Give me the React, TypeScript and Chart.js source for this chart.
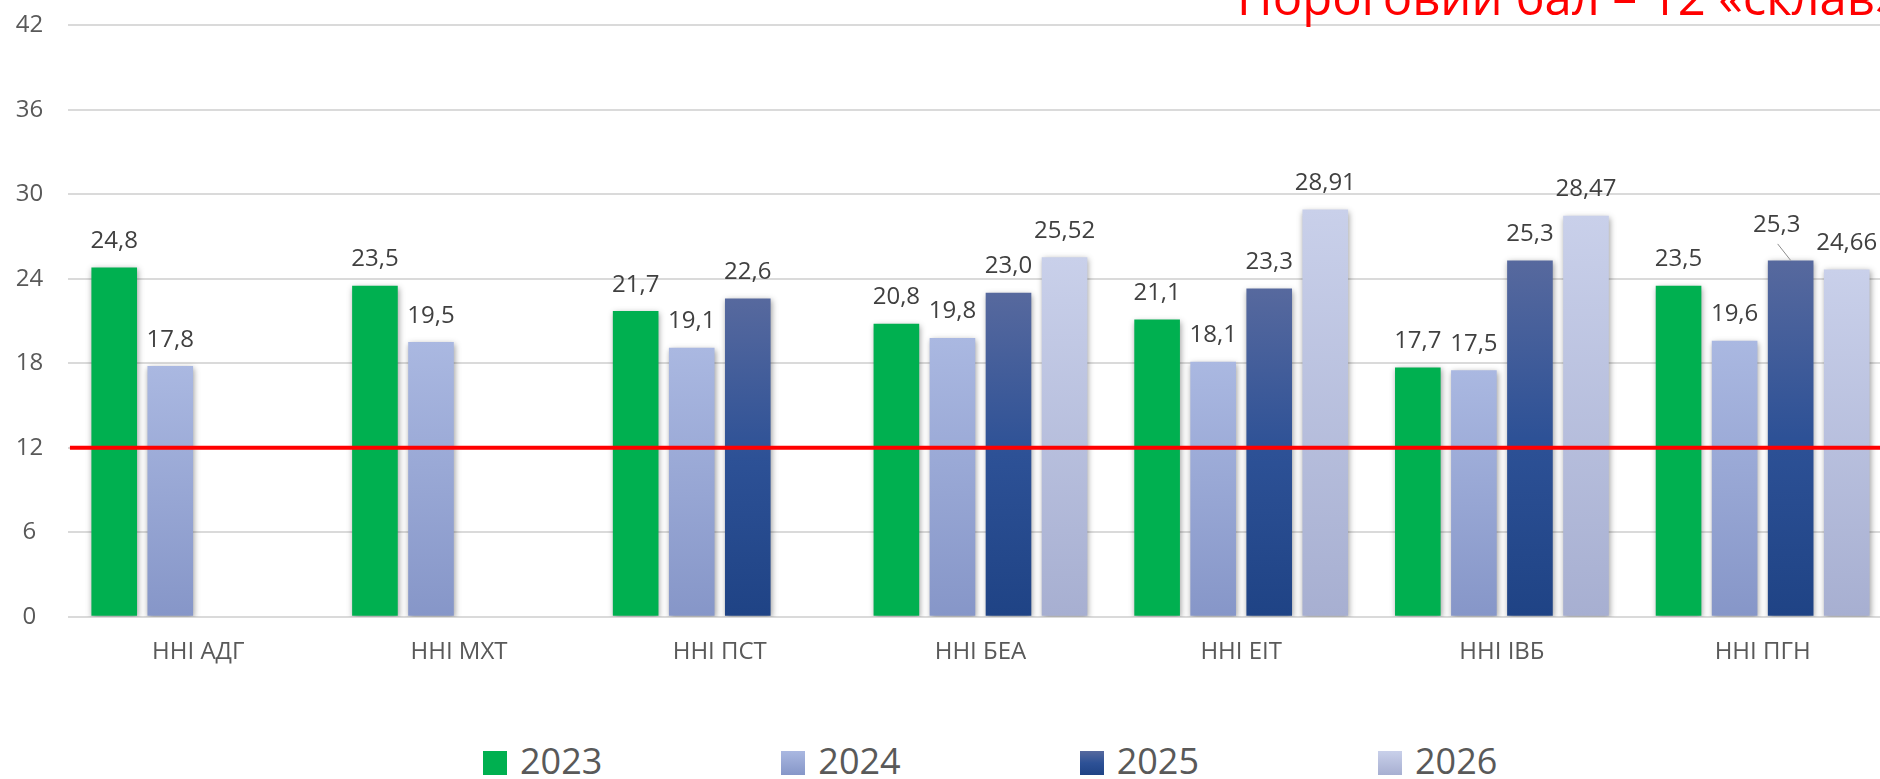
import React, { useEffect, useRef } from "react";
import { Chart, registerables } from "chart.js";

Chart.register(...registerables);

// ---------- data ----------
const categories = ["ННІ АДГ", "ННІ МХТ", "ННІ ПСТ", "ННІ БЕА", "ННІ ЕІТ", "ННІ ІВБ", "ННІ ПГН"];
const seriesNames = ["2023", "2024", "2025", "2026"];
const values2023 = [24.8, 23.5, 21.7, 20.8, 21.1, 17.7, 23.5];
const values2024 = [17.8, 19.5, 19.1, 19.8, 18.1, 17.5, 19.6];
const values2025 = [null, null, 22.6, 23.0, 23.3, 25.3, 25.3];
const values2026 = [null, null, null, 25.52, 28.91, 28.47, 24.66];
const seriesDecimals = [1, 1, 1, 2];
const thresholdValue = 12;
const yMin = 0;
const yMax = 42;
const yStep = 6;
const titleText = "Пороговий бал – 12 «склав»";

// ---------- styles ----------
const FONT = "'Open Sans', sans-serif";
const seriesColors: string[][] = [
  ["#00B050", "#00B050"],
  ["#AAB8E1", "#8696C8"],
  ["#57699E", "#2D5196", "#1F4385"],
  ["#C9D0EA", "#A7AFD1"],
];
// label nudges (dataset:index) for labels moved off the bar, with leader line
const labelNudges: Record<string, { dx: number; dy: number }> = {
  "2:6": { dx: -14, dy: -9 },
};

function gradientFill(stops: string[]) {
  return (ctx: any) => {
    const chart = ctx.chart;
    if (!chart.chartArea || ctx.type !== "data" || ctx.raw == null) return stops[0];
    const ys = chart.scales.y;
    const top = ys.getPixelForValue(ctx.raw);
    const base = ys.getPixelForValue(0);
    const g = chart.ctx.createLinearGradient(0, top, 0, base);
    stops.forEach((c, i) => g.addColorStop(i / (stops.length - 1), c));
    return g;
  };
}

const shadowPlugin = {
  id: "barShadow",
  beforeDatasetDraw(chart: any) {
    const c = chart.ctx;
    c.save();
    c.shadowColor = "rgba(0,0,0,0.38)";
    c.shadowBlur = 6;
    c.shadowOffsetX = 1;
    c.shadowOffsetY = 2;
  },
  afterDatasetDraw(chart: any) {
    chart.ctx.restore();
  },
};

const thresholdPlugin = {
  id: "threshold",
  afterDatasetsDraw(chart: any) {
    const { ctx, chartArea, scales } = chart;
    const y = scales.y.getPixelForValue(thresholdValue);
    ctx.save();
    ctx.strokeStyle = "#FF0000";
    ctx.lineWidth = 4;
    ctx.beginPath();
    ctx.moveTo(chartArea.left + 2, y);
    ctx.lineTo(chartArea.right, y);
    ctx.stroke();
    ctx.restore();
  },
};

const labelsPlugin = {
  id: "valueLabels",
  afterDatasetsDraw(chart: any) {
    const ctx = chart.ctx;
    ctx.save();
    ctx.font = `24px ${FONT}`;
    ctx.fillStyle = "#404040";
    ctx.textAlign = "center";
    ctx.textBaseline = "alphabetic";
    chart.data.datasets.forEach((ds: any, di: number) => {
      const meta = chart.getDatasetMeta(di);
      meta.data.forEach((el: any, i: number) => {
        const v = ds.data[i];
        if (v == null) return;
        const text = v.toFixed(seriesDecimals[di]).replace(".", ",");
        const nudge = labelNudges[`${di}:${i}`];
        const x = el.x + (nudge ? nudge.dx : 0);
        const y = el.y - 19.5 + (nudge ? nudge.dy : 0);
        ctx.fillText(text, x, y);
        if (nudge) {
          ctx.save();
          ctx.strokeStyle = "#8c8c8c";
          ctx.lineWidth = 1;
          ctx.beginPath();
          ctx.moveTo(x + 1, y + 12);
          ctx.lineTo(el.x, el.y);
          ctx.stroke();
          ctx.restore();
        }
      });
    });
    ctx.restore();
  },
};

function cssGradient(stops: string[]) {
  return `linear-gradient(to bottom, ${stops.join(", ")})`;
}

export default function App() {
  const canvasRef = useRef<HTMLCanvasElement | null>(null);

  useEffect(() => {
    if (!canvasRef.current) return;
    const allValues = [values2023, values2024, values2025, values2026];
    const chart = new Chart(canvasRef.current, {
      type: "bar",
      data: {
        labels: categories,
        datasets: seriesNames.map((name, i) => ({
          label: name,
          data: allValues[i] as any,
          backgroundColor: gradientFill(seriesColors[i]),
          borderWidth: 0,
          categoryPercentage: 0.86,
          barPercentage: 0.814,
        })),
      },
      options: {
        responsive: false,
        animation: false,
        devicePixelRatio: 1,
        layout: { padding: { left: 1, top: 8.6, right: 7, bottom: 12.4 } },
        plugins: {
          legend: { display: false },
          tooltip: { enabled: false },
          title: { display: false },
        },
        scales: {
          x: {
            grid: { display: false, drawTicks: false },
            border: { display: false },
            ticks: {
              font: { family: FONT, size: 24 },
              color: "#595959",
              padding: 21,
              maxRotation: 0,
              autoSkip: false,
            },
          },
          y: {
            min: yMin,
            max: yMax,
            grid: { color: "#DADADA", lineWidth: 2, drawTicks: false },
            border: { display: false },
            ticks: {
              stepSize: yStep,
              font: { family: FONT, size: 24 },
              color: "#595959",
              padding: 24.75,
              crossAlign: "center",
            },
          },
        },
      },
      plugins: [shadowPlugin, thresholdPlugin, labelsPlugin],
    });
    return () => chart.destroy();
  }, []);

  return (
    <div
      style={{
        position: "fixed",
        left: 0,
        top: 0,
        width: 1880,
        height: 779,
        overflow: "hidden",
        background: "#ffffff",
        fontFamily: FONT,
      }}
    >
      <canvas
        ref={canvasRef}
        width={1910}
        height={714}
        style={{ position: "absolute", left: -10, top: -14, width: 1910, height: 714 }}
      />
      <span
        style={{
          position: "absolute",
          left: 1237,
          top: -28.5,
          fontSize: 49,
          lineHeight: "49px",
          color: "#FF0000",
          whiteSpace: "nowrap",
        }}
      >
        {titleText}
      </span>
      <div
        style={{
          position: "absolute",
          left: 483,
          top: 743,
          height: 36,
          display: "flex",
          alignItems: "center",
          gap: 179,
        }}
      >
        {seriesNames.map((name, i) => (
          <div key={name} style={{ display: "flex", alignItems: "center" }}>
            <div
              style={{
                width: 24,
                height: 24,
                marginTop: 4,
                marginRight: 13,
                background: cssGradient(seriesColors[i]),
              }}
            />
            <span style={{ fontSize: 36, lineHeight: "36px", color: "#595959" }}>{name}</span>
          </div>
        ))}
      </div>
    </div>
  );
}
